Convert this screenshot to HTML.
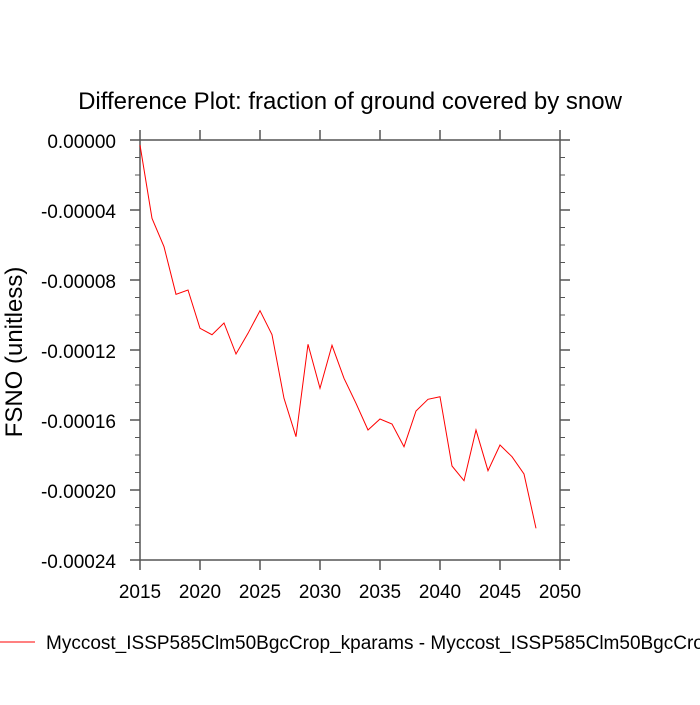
<!DOCTYPE html>
<html><head><style>body{margin:0;background:#fff}</style></head><body>
<svg width="700" height="700" xmlns="http://www.w3.org/2000/svg" font-family="Liberation Sans, sans-serif">
<rect width="700" height="700" fill="#fff"/>
<text x="350" y="109" font-size="24" text-anchor="middle">Difference Plot: fraction of ground covered by snow</text>
<g stroke="#555" stroke-width="1.5" fill="none">
<rect x="140" y="140" width="420" height="420"/>
<path d="M140,140h-10M140,210h-10M140,280h-10M140,350h-10M140,420h-10M140,490h-10M140,560h-10M560,140h10M560,210h10M560,280h10M560,350h10M560,420h10M560,490h10M560,560h10"/>
<path d="M140,560v10M200,560v10M260,560v10M320,560v10M380,560v10M440,560v10M500,560v10M560,560v10M140,140v-10M200,140v-10M260,140v-10M320,140v-10M380,140v-10M440,140v-10M500,140v-10M560,140v-10"/>
<path stroke-width="1" d="M140,157.5h-5M140,175h-5M140,192.5h-5M140,227.5h-5M140,245h-5M140,262.5h-5M140,297.5h-5M140,315h-5M140,332.5h-5M140,367.5h-5M140,385h-5M140,402.5h-5M140,437.5h-5M140,455h-5M140,472.5h-5M140,507.5h-5M140,525h-5M140,542.5h-5M560,157.5h5M560,175h5M560,192.5h5M560,227.5h5M560,245h5M560,262.5h5M560,297.5h5M560,315h5M560,332.5h5M560,367.5h5M560,385h5M560,402.5h5M560,437.5h5M560,455h5M560,472.5h5M560,507.5h5M560,525h5M560,542.5h5"/>
</g>
<polyline fill="none" stroke="#f00" stroke-width="1" points="140,145 152,218.3 164,246.7 176,294.3 188,290 200,328.3 212,334.7 224,323 236,354 248,333.3 260,310.7 272,334.7 284,398.3 296,436.7 308,344.3 320,388.3 332,345.3 344,378.3 356,403.3 368,430 380,419 392,424 404,446.7 416,411 428,399.3 440,396.7 452,466 464,480.7 476,430 488,470.7 500,445 512,456.7 524,474 536,528.3"/>
<g font-size="19" text-anchor="end">
<text x="116" y="148">0.00000</text>
<text x="116" y="218">-0.00004</text>
<text x="116" y="288">-0.00008</text>
<text x="116" y="358">-0.00012</text>
<text x="116" y="428">-0.00016</text>
<text x="116" y="498">-0.00020</text>
<text x="116" y="568">-0.00024</text>
</g>
<g font-size="19" text-anchor="middle">
<text x="140" y="598">2015</text><text x="200" y="598">2020</text><text x="260" y="598">2025</text><text x="320" y="598">2030</text><text x="380" y="598">2035</text><text x="440" y="598">2040</text><text x="500" y="598">2045</text><text x="560" y="598">2050</text>
</g>
<text transform="translate(22,352) rotate(-90)" font-size="24" text-anchor="middle">FSNO  (unitless)</text>
<line x1="0" y1="642" x2="35" y2="642" stroke="#f00" stroke-width="1"/>
<text x="46" y="649" font-size="19">Myccost_ISSP585Clm50BgcCrop_kparams - Myccost_ISSP585Clm50BgcCrop</text>
</svg>
</body></html>
